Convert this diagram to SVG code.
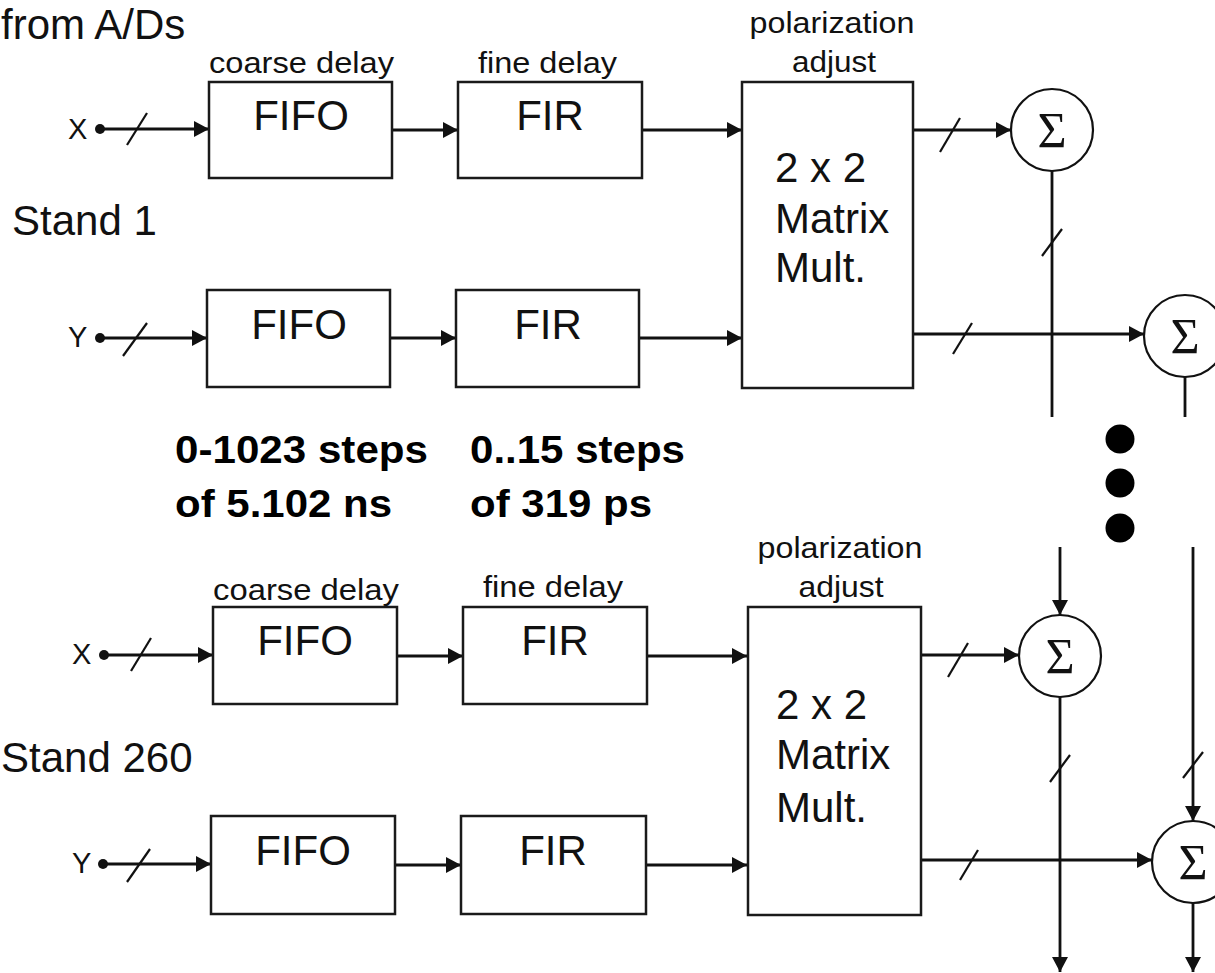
<svg xmlns="http://www.w3.org/2000/svg" width="1215" height="973" viewBox="0 0 1215 973">
<style>
.box{fill:#fff;stroke:#1a1a1a;stroke-width:2.5}
.sum{fill:#fff;stroke:#111;stroke-width:2.2}
.ln{fill:none;stroke:#111;stroke-width:2.8}
.sl{fill:none;stroke:#111;stroke-width:2.2}
.big{font-family:"Liberation Sans",Arial,sans-serif;font-size:42px;fill:#111}
.sm{font-family:"Liberation Sans",Arial,sans-serif;font-size:29px;fill:#111}
.io{font-family:"Liberation Sans",Arial,sans-serif;font-size:29px;fill:#111}
.bold{font-family:"Liberation Sans",Arial,sans-serif;font-size:39px;font-weight:bold;fill:#000}
.sig{font-family:"Liberation Serif","Times New Roman",serif;font-size:50px;fill:#111}
</style>
<defs>
<marker id="ah" viewBox="0 0 15 16" refX="15" refY="8" markerWidth="15" markerHeight="16" markerUnits="userSpaceOnUse" orient="auto">
<path d="M0,0 L15,8 L0,16 z" fill="#111"/>
</marker>
</defs>
<rect width="1215" height="973" fill="#fff"/>

<g id="labels">
<text class="big" x="1" y="39">from A/Ds</text>
<text class="big" x="12" y="235">Stand 1</text>
<text class="big" x="1" y="772">Stand 260</text>
<text class="bold" x="175" y="463" textLength="253" lengthAdjust="spacingAndGlyphs">0-1023 steps</text>
<text class="bold" x="175" y="517" textLength="217" lengthAdjust="spacingAndGlyphs">of 5.102 ns</text>
<text class="bold" x="470" y="463" textLength="215" lengthAdjust="spacingAndGlyphs">0..15 steps</text>
<text class="bold" x="470" y="517" textLength="182" lengthAdjust="spacingAndGlyphs">of 319 ps</text>
</g>

<g id="connectors">
<!-- stand 1 X -->
<circle cx="100" cy="129" r="5" fill="#111"/>
<line class="ln" x1="100" y1="129" x2="209" y2="129" marker-end="url(#ah)"/>
<line class="sl" x1="127" y1="145" x2="147" y2="113"/>
<line class="ln" x1="392" y1="130" x2="458" y2="130" marker-end="url(#ah)"/>
<line class="ln" x1="642" y1="130" x2="742" y2="130" marker-end="url(#ah)"/>
<!-- stand 1 Y -->
<circle cx="100" cy="338" r="5" fill="#111"/>
<line class="ln" x1="100" y1="338" x2="207" y2="338" marker-end="url(#ah)"/>
<line class="sl" x1="123" y1="356" x2="147" y2="323"/>
<line class="ln" x1="390" y1="338" x2="456" y2="338" marker-end="url(#ah)"/>
<line class="ln" x1="639" y1="338" x2="742" y2="338" marker-end="url(#ah)"/>
<!-- stand 1 outputs -->
<line class="ln" x1="913" y1="130" x2="1011" y2="130" marker-end="url(#ah)"/>
<line class="sl" x1="940" y1="152" x2="960" y2="118"/>
<line class="ln" x1="913" y1="334" x2="1144" y2="334" marker-end="url(#ah)"/>
<line class="sl" x1="953" y1="354" x2="972" y2="323"/>
<line class="ln" x1="1052" y1="171" x2="1052" y2="417"/>
<line class="sl" x1="1042" y1="256" x2="1062" y2="229"/>
<line class="ln" x1="1185" y1="377" x2="1185" y2="417"/>
<!-- continuation dots -->
<circle cx="1120" cy="439" r="14.5" fill="#000"/>
<circle cx="1120" cy="483" r="14.5" fill="#000"/>
<circle cx="1120" cy="528" r="14.5" fill="#000"/>
<!-- stand 260 X -->
<circle cx="104" cy="655" r="5" fill="#111"/>
<line class="ln" x1="104" y1="655" x2="213" y2="655" marker-end="url(#ah)"/>
<line class="sl" x1="131" y1="671" x2="151" y2="638"/>
<line class="ln" x1="397" y1="656" x2="463" y2="656" marker-end="url(#ah)"/>
<line class="ln" x1="647" y1="656" x2="747" y2="656" marker-end="url(#ah)"/>
<!-- stand 260 Y -->
<circle cx="103" cy="864" r="5" fill="#111"/>
<line class="ln" x1="103" y1="864" x2="211" y2="864" marker-end="url(#ah)"/>
<line class="sl" x1="127" y1="882" x2="150" y2="849"/>
<line class="ln" x1="395" y1="865" x2="461" y2="865" marker-end="url(#ah)"/>
<line class="ln" x1="646" y1="865" x2="747" y2="865" marker-end="url(#ah)"/>
<!-- stand 260 outputs -->
<line class="ln" x1="921" y1="655" x2="1019" y2="655" marker-end="url(#ah)"/>
<line class="sl" x1="948" y1="677" x2="968" y2="643"/>
<line class="ln" x1="921" y1="860" x2="1152" y2="860" marker-end="url(#ah)"/>
<line class="sl" x1="960" y1="880" x2="978" y2="850"/>
<line class="ln" x1="1060" y1="547" x2="1060" y2="615" marker-end="url(#ah)"/>
<line class="ln" x1="1060" y1="697" x2="1060" y2="972" marker-end="url(#ah)"/>
<line class="sl" x1="1050" y1="782" x2="1070" y2="755"/>
<line class="ln" x1="1193" y1="547" x2="1193" y2="821" marker-end="url(#ah)"/>
<line class="sl" x1="1183" y1="778" x2="1203" y2="752"/>
<line class="ln" x1="1193" y1="902" x2="1193" y2="972" marker-end="url(#ah)"/>
</g>

<g id="in-x1"><text class="io" x="68" y="139">X</text></g>
<g id="in-y1"><text class="io" x="68" y="347">Y</text></g>
<g id="in-x260"><text class="io" x="72" y="664">X</text></g>
<g id="in-y260"><text class="io" x="72" y="873">Y</text></g>

<g id="fifo-x1">
<text class="sm" x="209" y="73" textLength="185" lengthAdjust="spacingAndGlyphs">coarse delay</text>
<rect class="box" x="209" y="82" width="183" height="96"/>
<text class="big" x="301" y="130" text-anchor="middle">FIFO</text>
</g>
<g id="fir-x1">
<text class="sm" x="478" y="73" textLength="139" lengthAdjust="spacingAndGlyphs">fine delay</text>
<rect class="box" x="458" y="82" width="184" height="96"/>
<text class="big" x="550" y="130" text-anchor="middle">FIR</text>
</g>
<g id="fifo-y1">
<rect class="box" x="207" y="290" width="183" height="97"/>
<text class="big" x="299" y="339" text-anchor="middle">FIFO</text>
</g>
<g id="fir-y1">
<rect class="box" x="456" y="290" width="183" height="97"/>
<text class="big" x="548" y="339" text-anchor="middle">FIR</text>
</g>
<g id="matrix1">
<text class="sm" x="832" y="33" text-anchor="middle" textLength="165" lengthAdjust="spacingAndGlyphs">polarization</text>
<text class="sm" x="834" y="72" text-anchor="middle" textLength="84" lengthAdjust="spacingAndGlyphs">adjust</text>
<rect class="box" x="742" y="82" width="171" height="306"/>
<text class="big" x="775" y="182">2 x 2</text>
<text class="big" x="775" y="233">Matrix</text>
<text class="big" x="775" y="282">Mult.</text>
</g>
<g id="sum-x1">
<circle class="sum" cx="1052" cy="130" r="41"/>
<text class="sig" x="1052" y="147" text-anchor="middle">Σ</text>
</g>
<g id="sum-y1">
<circle class="sum" cx="1185" cy="336" r="41"/>
<text class="sig" x="1185" y="353" text-anchor="middle">Σ</text>
</g>

<g id="fifo-x260">
<text class="sm" x="213" y="600" textLength="186" lengthAdjust="spacingAndGlyphs">coarse delay</text>
<rect class="box" x="213" y="607" width="184" height="97"/>
<text class="big" x="305" y="655" text-anchor="middle">FIFO</text>
</g>
<g id="fir-x260">
<text class="sm" x="483" y="597" textLength="140" lengthAdjust="spacingAndGlyphs">fine delay</text>
<rect class="box" x="463" y="607" width="184" height="97"/>
<text class="big" x="555" y="655" text-anchor="middle">FIR</text>
</g>
<g id="fifo-y260">
<rect class="box" x="211" y="816" width="184" height="98"/>
<text class="big" x="303" y="865" text-anchor="middle">FIFO</text>
</g>
<g id="fir-y260">
<rect class="box" x="461" y="816" width="185" height="98"/>
<text class="big" x="553" y="865" text-anchor="middle">FIR</text>
</g>
<g id="matrix260">
<text class="sm" x="840" y="558" text-anchor="middle" textLength="165" lengthAdjust="spacingAndGlyphs">polarization</text>
<text class="sm" x="841" y="597" text-anchor="middle" textLength="85" lengthAdjust="spacingAndGlyphs">adjust</text>
<rect class="box" x="748" y="607" width="173" height="308"/>
<text class="big" x="776" y="719">2 x 2</text>
<text class="big" x="776" y="769">Matrix</text>
<text class="big" x="776" y="822">Mult.</text>
</g>
<g id="sum-x260">
<circle class="sum" cx="1060" cy="656" r="41"/>
<text class="sig" x="1060" y="673" text-anchor="middle">Σ</text>
</g>
<g id="sum-y260">
<circle class="sum" cx="1193" cy="862" r="41"/>
<text class="sig" x="1193" y="879" text-anchor="middle">Σ</text>
</g>
</svg>
